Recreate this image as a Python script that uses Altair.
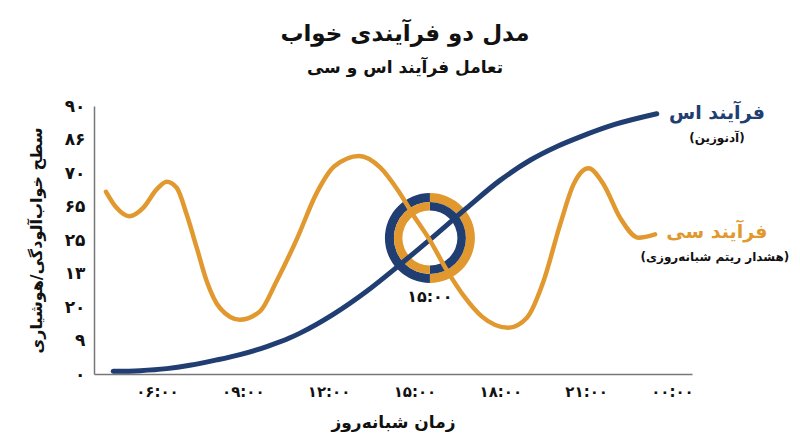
import json
import altair as alt
import pandas as pd

# ---------------- data ----------------
# Process S (adenosine) - blue
s_hours = [4.47, 5.41, 6.34, 7.15, 8.09, 8.90, 9.84, 10.65, 11.00, 12.16, 13.33, 14.50, 15.55,
           16.83, 17.99, 19.04, 20.00, 20.79, 22.00, 23.47]
s_level = [0.08, 0.10, 0.16, 0.26, 0.42, 0.58, 0.82, 1.08, 1.22, 1.78, 2.47, 3.27, 4.02,
           4.96, 5.78, 6.38, 6.80, 7.08, 7.45, 7.77]

# Process C (circadian alerting) - orange
c_hours = [4.22, 4.59, 5.03, 5.52, 5.99, 6.34, 6.69, 7.04, 7.39, 7.74, 8.20, 8.90, 9.60, 10.18,
           10.90, 11.58, 12.20, 13.07, 13.80, 14.45, 14.99, 15.50, 16.13, 16.75, 17.35, 18.28,
           18.93, 19.51, 20.09, 20.56, 21.08, 21.61, 22.19, 22.83, 23.41]
c_level = [5.44, 4.96, 4.71, 4.96, 5.51, 5.74, 5.56, 4.76, 3.77, 2.77, 1.97, 1.62, 1.87, 2.77,
           4.05, 5.40, 6.20, 6.51, 6.17, 5.45, 4.70, 4.05, 3.10, 2.30, 1.72, 1.38,
           1.68, 2.77, 4.46, 5.66, 6.14, 5.66, 4.66, 4.07, 4.17]

x_ticks = [6, 9, 12, 15, 18, 21, 24]
x_tick_labels = ["۰۶:۰۰", "۰۹:۰۰", "۱۲:۰۰", "۱۵:۰۰", "۱۸:۰۰", "۲۱:۰۰", "۰۰:۰۰"]
y_ticks = [0, 1, 2, 3, 4, 5, 6, 7, 8]
y_tick_labels = ["۰", "۹", "۲۰", "۱۳", "۲۵", "۶۵", "۷۰", "۸۶", "۹۰"]

marker_hour = [15.54]
marker_level = [4.06]
marker_label = ["۱۵:۰۰"]
marker_label_level = [2.31]

label_texts = ["فرآیند اس", "(آدنوزین)", "فرآیند سی", "(هشدار ریتم شبانه‌روزی)"]
label_hours = [25.57, 25.57, 25.57, 25.50]
label_levels = [7.79, 7.04, 4.23, 3.49]
label_kind = ["s", "note", "c", "note"]

BLUE = "#213e72"
ORANGE = "#e1992f"
FONT = "DejaVu Sans"

# ---------------- frames ----------------
df_s = pd.DataFrame({"h": s_hours, "v": s_level})
df_c = pd.DataFrame({"h": c_hours, "v": c_level})
df_m = pd.DataFrame({"h": marker_hour, "v": marker_level})
df_ml = pd.DataFrame({"h": marker_hour, "v": marker_label_level, "t": marker_label})
df_lab = pd.DataFrame({"h": label_hours, "v": label_levels, "t": label_texts, "k": label_kind})

xscale = alt.Scale(domain=[3.8, 24.7], nice=False, zero=False)
yscale = alt.Scale(domain=[0, 8], nice=False, zero=False)

x_expr = f"{json.dumps(x_tick_labels, ensure_ascii=False)}[round((datum.value-6)/3)]"
y_expr = f"{json.dumps(y_tick_labels, ensure_ascii=False)}[round(datum.value)]"

x_axis = alt.Axis(values=x_ticks, labelExpr=x_expr, title="زمان شبانه‌روز", ticks=False,
                  grid=False, domainColor="#777777", domainWidth=1.5, labelFont=FONT,
                  labelFontSize=15, labelFontWeight="bold", labelColor="#111111",
                  labelPadding=10, titleFont=FONT, titleFontSize=17, titleFontWeight="bold",
                  titleColor="#111111", titlePadding=15)
y_axis = alt.Axis(values=y_ticks, labelExpr=y_expr, title="سطح خواب‌آلودگی/هوشیاری", ticks=False,
                  grid=False, domainColor="#777777", domainWidth=1.5, labelFont=FONT,
                  labelFontSize=17, labelFontWeight="bold", labelColor="#111111",
                  labelPadding=9, titleFont=FONT, titleFontSize=16, titleFontWeight="bold",
                  titleColor="#111111", titlePadding=20)

X = alt.X("h:Q", scale=xscale, axis=x_axis)
Y = alt.Y("v:Q", scale=yscale, axis=y_axis)

PI = 3.141592653589793


def ring(r_out, r_in, t0, t1, color):
    return alt.Chart(df_m).mark_arc(radius=r_out, radius2=r_in, theta=t0, theta2=t1,
                                    color=color).encode(x=X, y=Y)


arcs = [
    ring(45, 36, 0, PI, ORANGE),
    ring(45, 36, PI, 2 * PI, BLUE),
    ring(36, 27.5, 0, PI, BLUE),
    ring(36, 27.5, PI, 2 * PI, ORANGE),
]

line_s = alt.Chart(df_s).mark_line(color=BLUE, strokeWidth=5, interpolate="monotone",
                                   strokeCap="round").encode(x=X, y=Y)
line_c = alt.Chart(df_c).mark_line(color=ORANGE, strokeWidth=4.5, interpolate="monotone",
                                   strokeCap="round").encode(x=X, y=Y)

marker_text = alt.Chart(df_ml).mark_text(font=FONT, fontSize=16, fontWeight="bold",
                                         color="#111111", baseline="middle").encode(
    x=X, y=Y, text="t:N")

lab_s = alt.Chart(df_lab).transform_filter("datum.k == 's'").mark_text(
    font=FONT, fontSize=19, fontWeight="bold", color=BLUE, baseline="middle").encode(
    x=X, y=Y, text="t:N")
lab_c = alt.Chart(df_lab).transform_filter("datum.k == 'c'").mark_text(
    font=FONT, fontSize=19, fontWeight="bold", color=ORANGE, baseline="middle").encode(
    x=X, y=Y, text="t:N")
lab_n = alt.Chart(df_lab).transform_filter("datum.k == 'note'").mark_text(
    font=FONT, fontSize=12, fontWeight="bold", color="#111111", baseline="middle").encode(
    x=X, y=Y, text="t:N")

chart = alt.layer(*arcs, line_s, line_c, marker_text, lab_s, lab_c, lab_n).properties(
    width=598,
    height=268,
    autosize=alt.AutoSizeParams(type="none"),
    padding={"left": 86, "top": 98, "right": 100, "bottom": 65},
    title=alt.TitleParams(text="مدل دو فرآیندی خواب", subtitle="تعامل فرآیند اس و سی",
                          font=FONT, fontSize=23, fontWeight="bold", color="#111111",
                          subtitleFont=FONT, subtitleFontSize=17, subtitleFontWeight="bold",
                          subtitleColor="#111111", subtitlePadding=14, anchor="middle",
                          offset=21, dx=12),
).configure(background="white").configure_view(stroke=None)

chart.save("out.html", embed_options={"renderer": "svg", "actions": False})
